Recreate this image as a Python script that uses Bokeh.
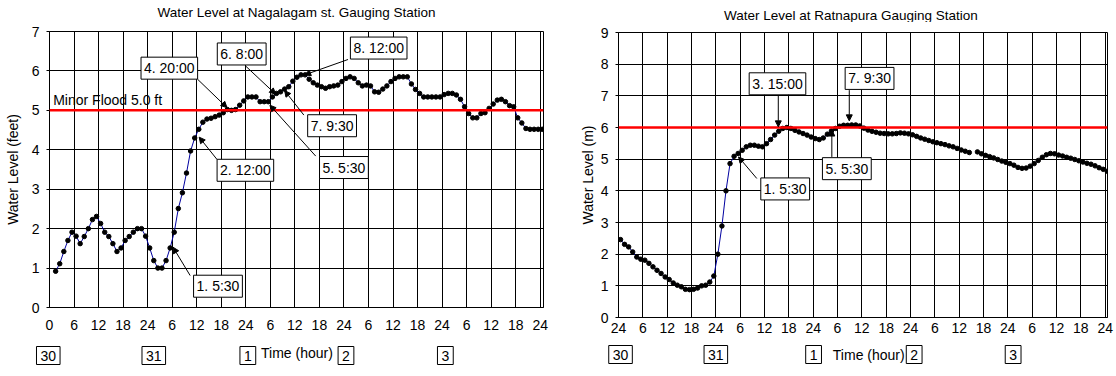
from bokeh.plotting import figure
from bokeh.layouts import row, column
from bokeh.models import Label, Arrow, NormalHead, Span, FixedTicker, Range1d
from bokeh.embed import file_html
from bokeh.resources import INLINE

FONT = "Liberation Sans"
NAN = float("nan")

# ---------------- data ----------------
left_title = "Water Level at Nagalagam st. Gauging Station"
right_title = "Water Level at Ratnapura Gauging Station"
left_ylabel = "Water Level (feet)"
right_ylabel = "Water Level (m)"
xlabel = "Time (hour)"

# hourly samples (hours since start of chart)
left_hours = [i + 1.5 for i in range(120)]
left_values = [
    0.92, 1.11, 1.42, 1.70, 1.91, 1.81, 1.62, 1.80, 2.00, 2.23,
    2.31, 2.13, 1.91, 1.80, 1.62, 1.42, 1.51, 1.70, 1.80, 1.91,
    2.00, 2.00, 1.81, 1.51, 1.19, 1.00, 1.00, 1.19, 1.51, 1.91,
    2.51, 2.91, 3.41, 3.97, 4.30, 4.52, 4.70, 4.78, 4.80, 4.84,
    4.88, 4.94, 5.02, 5.00, 5.02, 5.13, 5.24, 5.34, 5.34, 5.34,
    5.22, 5.22, 5.22, 5.34, 5.43, 5.47, 5.54, 5.60, 5.74, 5.84,
    5.90, 5.90, 5.79, 5.70, 5.64, 5.60, 5.56, 5.60, 5.62, 5.64,
    5.73, 5.81, 5.85, 5.81, 5.70, 5.62, 5.64, 5.62, 5.47, 5.46,
    5.54, 5.62, 5.73, 5.81, 5.85, 5.85, 5.85, 5.67, 5.53, 5.43,
    5.34, 5.34, 5.34, 5.34, 5.34, 5.40, 5.43, 5.43, 5.39, 5.28,
    5.09, 4.92, 4.81, 4.81, 4.92, 4.94, 5.05, 5.16, 5.26, 5.28,
    5.22, 5.12, 5.09, 4.81, 4.68, 4.54, 4.52, 4.52, 4.52, 4.52,
]

right_hours = [i + 0.5 for i in range(121)]
right_values = [
    2.46, 2.31, 2.23, 2.07, 1.91, 1.84, 1.81, 1.71, 1.60, 1.49,
    1.39, 1.28, 1.20, 1.09, 1.02, 0.97, 0.89, 0.88, 0.89, 0.93,
    1.00, 1.02, 1.12, 1.31, 2.00, 2.89, 4.00, 4.86, 5.09, 5.18,
    5.28, 5.39, 5.44, 5.44, 5.41, 5.39, 5.49, 5.62, 5.76, 5.88,
    5.97, 6.00, 5.97, 5.91, 5.86, 5.81, 5.76, 5.70, 5.65, 5.62,
    5.67, 5.79, 5.89, 5.97, 6.04, 6.07, 6.07, 6.08, 6.08, 6.05,
    5.98, 5.92, 5.88, 5.85, 5.82, 5.81, 5.80, 5.80, 5.81, 5.83,
    5.82, 5.80, 5.77, 5.72, 5.67, 5.63, 5.59, 5.55, 5.52, 5.49,
    5.46, 5.42, 5.39, 5.34, 5.29, 5.25, 5.21, NAN, 5.23, 5.17,
    5.12, 5.08, 5.04, 4.99, 4.94, 4.90, 4.86, 4.81, 4.74, 4.71,
    4.72, 4.78, 4.86, 4.96, 5.06, 5.14, 5.18, 5.17, 5.13, 5.10,
    5.06, 5.03, 4.99, 4.95, 4.91, 4.87, 4.84, 4.79, 4.73, 4.68,
    4.62,
]

tick_hours = [0, 6, 12, 18, 24, 30, 36, 42, 48, 54, 60, 66, 72, 78, 84, 90, 96, 102, 108, 114, 120]
left_tick_labels = ["0", "6", "12", "18", "24", "6", "12", "18", "24", "6", "12",
                    "18", "24", "6", "12", "18", "24", "6", "12", "18", "24"]
right_tick_labels = ["24", "6", "12", "18", "24", "6", "12", "18", "24", "6", "12",
                     "18", "24", "6", "12", "18", "24", "6", "12", "18", "24"]

day_labels = ["30", "31", "1", "2", "3"]

left_flood_level = 5.0
left_flood_text = "Minor Flood 5.0 ft"
right_flood_level = 6.0

left_notes = ["1. 5:30", "2. 12:00", "4. 20:00", "5. 5:30", "6. 8:00", "7. 9:30", "8. 12:00"]
right_notes = ["1. 5:30", "3. 15:00", "5. 5:30", "7. 9:30"]

# ---------------- layout (annotation placement) ----------------
left_day_pos = [-0.3, 25.5, 48.5, 72.5, 96.8]
right_day_pos = [0.5, 24.0, 48.1, 72.9, 97.3]

left_note_box = [(41.2, 0.54), (47.9, 3.48), (29.3, 6.07), (72.0, 3.55), (47.0, 6.43), (69.1, 4.61), (80.5, 6.58)]
left_note_from = [(34.4, 0.81), (41.0, 3.75), (36.2, 5.79), (65.1, 3.84), (47.9, 6.13), (62.2, 4.88), (73.0, 6.29)]
left_note_to = [(30.2, 1.53), (36.6, 4.32), (43.4, 5.07), (53.9, 5.13), (55.3, 5.41), (57.5, 5.50), (62.4, 5.90)]

right_note_box = [(41.1, 4.06), (39.2, 7.38), (56.3, 4.70), (61.9, 7.55)]
right_note_from = [(34.1, 4.39), (39.4, 7.00), (52.6, 5.07), (56.9, 7.18)]
right_note_to = [(29.6, 5.07), (39.4, 6.02), (52.6, 5.92), (56.9, 6.21)]


def strip(width, height, x_range):
    s = figure(width=width, height=height, x_range=x_range, y_range=Range1d(0, height),
               x_axis_type=None, y_axis_type=None, output_backend="svg", toolbar_location=None,
               min_border_left=0, min_border_right=0, min_border_top=0, min_border_bottom=0,
               frame_align=False)
    s.outline_line_color = None
    s.background_fill_color = "white"
    s.border_fill_color = "white"
    return s


def text_label(x, y, txt, size="14px", align="center", boxed=False, pad=3):
    kw = dict(x=x, y=y, text=txt, text_font=FONT, text_font_size=size,
              text_align=align, text_baseline="middle", text_color="black")
    if boxed:
        kw.update(background_fill_color="white", border_line_color="black",
                  border_line_width=1, padding=pad)
    return Label(**kw)


def make_chart(width, bl, br, top_h, top_b, frame_h, bottom_b, strip_h, xmax, ymax,
               hours, values, tick_labels, ylabel, title, title_x, title_y,
               flood, day_pos, day_y, xlabel_x, xlabel_y,
               notes, note_box, note_from, note_to, tick_standoff, ylabel_standoff):
    xr = Range1d(0, xmax)
    frame_w = width - bl - br
    ppx = frame_w / xmax
    xr_wide = Range1d(-bl / ppx, xmax + br / ppx)

    top = strip(width, top_h, xr_wide)
    top.add_layout(text_label(title_x, title_y, title, size="13.5px"))

    p = figure(width=width, height=top_b + frame_h + bottom_b, output_backend="svg",
               toolbar_location=None, x_range=xr, y_range=Range1d(0, ymax),
               min_border_left=bl, min_border_right=br,
               min_border_top=top_b, min_border_bottom=bottom_b, frame_align=False)
    p.background_fill_color = "white"
    p.border_fill_color = "white"
    p.outline_line_color = "black"
    p.outline_line_width = 1

    xt = FixedTicker(ticks=tick_hours)
    yt = FixedTicker(ticks=list(range(0, ymax + 1)))
    p.xaxis.ticker = xt
    p.yaxis.ticker = yt
    p.xgrid.ticker = xt
    p.ygrid.ticker = yt
    for g in (p.xgrid, p.ygrid):
        g.grid_line_color = "black"
        g.grid_line_alpha = 1.0
        g.grid_line_width = 1

    p.xaxis.major_label_overrides = {h: t for h, t in zip(tick_hours, tick_labels)}
    for ax in (p.xaxis, p.yaxis):
        ax.axis_line_color = "black"
        ax.axis_line_width = 1
        ax.minor_tick_line_color = None
        ax.major_tick_line_color = "black"
        ax.major_label_text_font = FONT
        ax.major_label_text_font_size = "14px"
        ax.major_label_text_color = "black"
        ax.axis_label_text_font = FONT
        ax.axis_label_text_font_size = "14px"
        ax.axis_label_text_font_style = "normal"
        ax.axis_label_text_color = "black"
    p.xaxis.major_tick_out = 0
    p.xaxis.major_tick_in = 0
    p.xaxis.major_label_standoff = tick_standoff
    p.yaxis.major_tick_out = 3
    p.yaxis.major_tick_in = 0
    p.yaxis.major_label_standoff = 7
    p.yaxis.axis_label = ylabel
    p.yaxis.axis_label_standoff = ylabel_standoff

    p.add_layout(Span(location=flood, dimension="width", line_color="#ff0000", line_width=2.5))

    p.line(hours, values, line_color="#0000a0", line_width=1)
    p.scatter(hours, values, size=4.5, fill_color="black", line_color="black")

    for txt, (bx, by), (fx, fy), (tx, ty) in zip(notes, note_box, note_from, note_to):
        p.add_layout(Arrow(end=NormalHead(size=6, fill_color="black", line_color="black"),
                           x_start=fx, y_start=fy, x_end=tx, y_end=ty,
                           line_color="black", line_width=1))
        p.add_layout(text_label(bx, by, txt, boxed=True))

    bot = strip(width, strip_h, xr_wide)
    for txt, dx in zip(day_labels, day_pos):
        bot.add_layout(text_label(dx, day_y, txt, boxed=True, pad=4))
    bot.add_layout(text_label(xlabel_x, xlabel_y, xlabel))
    return top, p, bot


# left: title strip 0..21, frame 31..307, dates strip 340..376
t1, p1, b1 = make_chart(568, 49, 25, 21, 10, 276, 33, 36, 120.8, 7, left_hours, left_values,
                        left_tick_labels, left_ylabel, left_title, 60.4, 9.3, left_flood_level,
                        left_day_pos, 21, 60.5, 23.3,
                        left_notes, left_note_box, left_note_from, left_note_to, 12, 8)
p1.add_layout(text_label(0.9, 5.26, left_flood_text, align="left"))

# right: title strip 0..22, frame 32..317, dates strip 340..376
t2, p2, b2 = make_chart(548, 50, 9, 22, 10, 285, 23, 36, 120.57, 9, right_hours, right_values,
                        right_tick_labels, right_ylabel, right_title, 57.3, 7, right_flood_level,
                        right_day_pos, 22, 61.7, 22,
                        right_notes, right_note_box, right_note_from, right_note_to, 5, 2)

layout = row(column(t1, p1, b1), column(t2, p2, b2))
open("out.html", "w").write(file_html(layout, INLINE))
